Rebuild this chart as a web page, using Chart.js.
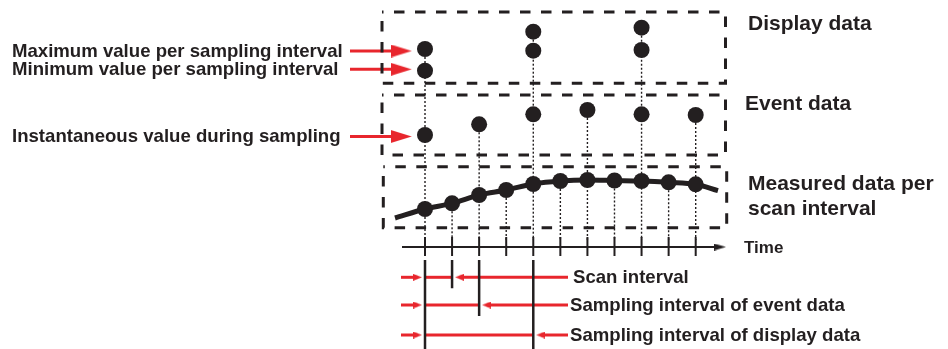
<!DOCTYPE html>
<html>
<head>
<meta charset="utf-8">
<script src="https://cdn.jsdelivr.net/npm/chart.js@4.4.1/dist/chart.umd.min.js"></script>
<style>
  body { margin: 0; background: #fff; }
  #wrap { width: 948px; height: 349px; position: relative; }
</style>
</head>
<body>
<div id="wrap"><canvas id="diagram"></canvas></div>
<script>
// scan index along the time axis
const scanIdx = [0, 1, 2, 3, 4, 5, 6, 7, 8, 9, 10];
// measured data per scan interval (vertical level, top = 0)
const measuredVals = [209, 203.3, 195, 190, 184, 181, 180, 180.5, 181, 182.3, 184.3];
// event data, one sample every 2 scans
const eventIdx = [0, 2, 4, 6, 8, 10];
const eventVals = [135, 124.3, 114.3, 110, 114.3, 115];
// display data, max/min every 4 scans
const displayIdx = [0, 4, 8];
const displayMax = [49, 31.7, 27.7];
const displayMin = [70.7, 50.7, 50];
// interval rulers under the axis: scans covered by each interval
const intervalNames = ['Scan interval', 'Sampling interval of event data', 'Sampling interval of display data'];
const intervalScans = [1, 2, 4];
const leftLabels = ['Maximum value per sampling interval', 'Minimum value per sampling interval', 'Instantaneous value during sampling'];

const INK = '#231f20';
const RED = '#e8262d';
const PX = 27.07;          // pixels per scan
const X0 = 425;            // pixel of scan 0
const XMIN = -X0 / PX, XMAX = (948 - X0) / PX;
const u = px => (px - X0) / PX;   // pixel -> scan units (layout helper)

function head(len, w, color) {
  const c = document.createElement('canvas');
  c.width = len * 2; c.height = w;
  const g = c.getContext('2d');
  g.fillStyle = color;
  g.beginPath(); g.moveTo(0, 0); g.lineTo(len, w / 2); g.lineTo(0, w); g.closePath(); g.fill();
  return c;
}
const bigRed = head(21, 13, RED);
const smallRed = head(9, 7, RED);
const blackHead = head(12, 7, INK);

const datasets = [];
function seg(pts, opts) {
  datasets.push(Object.assign({
    data: pts, showLine: true, pointRadius: 0, borderColor: INK,
    borderWidth: 2, fill: false, borderCapStyle: 'butt'
  }, opts));
}
function arrow(x1, y, x2, img, len, color, width) {
  const dir = x2 > x1 ? 1 : -1;
  seg([{x: x1, y: y}, {x: x2 - dir * len / 2 / PX, y: y}], {borderColor: color, borderWidth: width});
  datasets.push({
    data: [{x: x2, y: y}], showLine: false, pointStyle: img,
    rotation: dir > 0 ? 0 : 180, pointRadius: 1, order: -1
  });
}

// marks
datasets.push({
  data: displayIdx.map((i, k) => ({x: i, y: displayMax[k]}))
    .concat(displayIdx.map((i, k) => ({x: i, y: displayMin[k]}))),
  showLine: false, pointRadius: 8, backgroundColor: INK, borderWidth: 0, order: -2
});
datasets.push({
  data: eventIdx.map((i, k) => ({x: i, y: eventVals[k]})),
  showLine: false, pointRadius: 8, backgroundColor: INK, borderWidth: 0, order: -2
});
datasets.push({
  data: [{x: u(395), y: 218}].concat(scanIdx.map((i, k) => ({x: i, y: measuredVals[k]})), [{x: u(718), y: 190.7}]),
  showLine: true, borderColor: INK, borderWidth: 5, cubicInterpolationMode: 'monotone',
  pointRadius: ctx => (ctx.dataIndex === 0 || ctx.dataIndex === scanIdx.length + 1) ? 0 : 8,
  backgroundColor: INK, pointBorderWidth: 0, order: -2
});

// dotted drop lines from the top-most mark of each scan
scanIdx.forEach((i, k) => {
  let top = measuredVals[k];
  const e = eventIdx.indexOf(i);
  if (e >= 0) top = eventVals[e];
  const d = displayIdx.indexOf(i);
  if (d >= 0) top = displayMax[d];
  seg([{x: i, y: top}, {x: i, y: 240}], {borderWidth: 1.4, borderDash: [2, 2]});
});

// dashed boxes
[[382, 725.5, 12, 83.3], [382, 725.5, 95, 155], [383.3, 726.7, 166.7, 227.7]].forEach(b => {
  seg([{x: u(b[0]), y: b[2]}, {x: u(b[1]), y: b[2]}, {x: u(b[1]), y: b[3]}, {x: u(b[0]), y: b[3]}, {x: u(b[0]), y: b[2]}],
    {borderWidth: 3, borderDash: [10.5, 10.5], borderDashOffset: 9, borderCapStyle: 'butt'});
});

// time axis
arrow(u(402), 247, u(726), blackHead, 12, INK, 2);
scanIdx.forEach(i => seg([{x: i, y: 237}, {x: i, y: 256}], {borderWidth: 2}));

// left pointer arrows
[51, 69.3, 136.5].forEach(y => arrow(u(350), y, u(411.7), bigRed, 21, RED, 3));

// interval rulers
const rowY = [277.3, 305, 335];
intervalScans.forEach((n, r) => {
  const y = rowY[r];
  arrow(u(401), y, u(422), smallRed, 9, RED, 3);
  seg([{x: 0, y: y}, {x: n, y: y}], {borderColor: RED, borderWidth: 3});
  arrow(u(568), y, n + 3 / PX, smallRed, 9, RED, 3);
});
seg([{x: 0, y: 260}, {x: 0, y: 349}], {borderWidth: 2.5, order: -3});
intervalScans.forEach((n, r) => {
  const bottom = r === intervalScans.length - 1 ? 349 : rowY[r] + 11;
  seg([{x: n, y: 260}, {x: n, y: bottom}], {borderWidth: 2.5, order: -3});
});

const labels = {
  id: 'labels',
  afterDraw(chart) {
    const ctx = chart.ctx;
    ctx.save();
    ctx.fillStyle = INK;
    ctx.textBaseline = 'middle';
    ctx.font = 'bold 18.6px "Liberation Sans", Arial, sans-serif';
    [51.5, 69.5, 136.5].forEach((y, k) => ctx.fillText(leftLabels[k], 12, y));
    intervalNames.forEach((t, r) => ctx.fillText(t, r === 0 ? 573 : 570, rowY[r] + 0.5));
    ctx.font = 'bold 17px "Liberation Sans", Arial, sans-serif';
    ctx.fillText('Time', 744, 248.5);
    ctx.textBaseline = 'alphabetic';
    ctx.font = 'bold 21px "Liberation Sans", Arial, sans-serif';
    ctx.fillText('Display data', 748, 30);
    ctx.fillText('Event data', 745, 110);
    ctx.fillText('Measured data per', 748, 190);
    ctx.fillText('scan interval', 748, 215);
    ctx.restore();
  }
};

new Chart(document.getElementById('diagram'), {
  type: 'scatter',
  data: { datasets: datasets },
  options: {
    responsive: true,
    maintainAspectRatio: false,
    animation: false,
    layout: { padding: 0, autoPadding: false },
    plugins: { legend: { display: false }, tooltip: { enabled: false } },
    scales: {
      x: { type: 'linear', display: false, min: XMIN, max: XMAX },
      y: { type: 'linear', display: false, reverse: true, min: 0, max: 349 }
    }
  },
  plugins: [labels]
});
</script>
</body>
</html>
